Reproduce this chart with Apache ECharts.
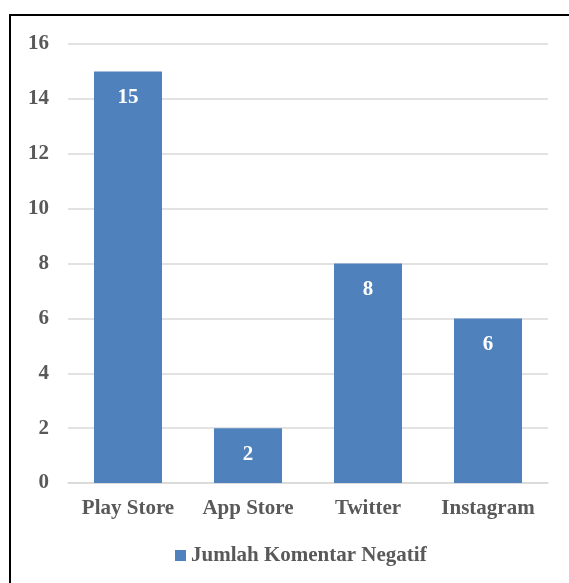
<!DOCTYPE html>
<html>
<head>
<meta charset="utf-8">
<script src="https://cdn.jsdelivr.net/npm/echarts@6/dist/echarts.min.js"></script>
<style>
  html, body { margin: 0; padding: 0; background: #fff; }
  #chart { width: 569px; height: 583px; }
</style>
</head>
<body>
<div id="chart"></div>
<script>
// data
const platforms = ['Play Store', 'App Store', 'Twitter', 'Instagram'];
const negativeCounts = [15, 2, 8, 6];
const seriesName = 'Jumlah Komentar Negatif';

const textColor = '#595959';
const barColor = '#4F81BD';
const font = '"Liberation Serif", "Times New Roman", serif';
const fs = 21;

const chart = echarts.init(document.getElementById('chart'));
chart.setOption({
  animation: false,
  textStyle: { fontFamily: font },
  graphic: [{
    type: 'rect',
    shape: { x: 10, y: 15, width: 600, height: 600 },
    style: { fill: 'none', stroke: '#000', lineWidth: 2 }
  }],
  grid: { left: 68, right: 21, top: 44, bottom: 100 },
  legend: {
    bottom: 12,
    left: 170,
    itemWidth: 11,
    itemHeight: 11,
    itemGap: 4,
    icon: 'rect',
    textStyle: { color: textColor, fontSize: fs, fontWeight: 'bold', fontFamily: font },
    data: [seriesName]
  },
  xAxis: {
    type: 'category',
    data: platforms,
    axisLine: { lineStyle: { color: '#d9d9d9', width: 1.5 } },
    axisTick: { show: false },
    axisLabel: { interval: 0, color: textColor, fontSize: fs, fontWeight: 'bold', fontFamily: font, margin: 15 }
  },
  yAxis: {
    type: 'value',
    min: 0,
    max: 16,
    interval: 2,
    axisLine: { show: false },
    axisTick: { show: false },
    splitLine: { lineStyle: { color: '#d9d9d9', width: 1.5 } },
    axisLabel: { color: textColor, fontSize: fs, fontWeight: 'bold', fontFamily: font, margin: 19 }
  },
  series: [{
    name: seriesName,
    type: 'bar',
    data: negativeCounts,
    barWidth: '56.7%',
    itemStyle: { color: barColor },
    label: {
      show: true,
      position: 'insideTop',
      distance: 16,
      color: '#fff',
      fontSize: fs,
      fontWeight: 'bold',
      fontFamily: font
    }
  }]
});
</script>
</body>
</html>
